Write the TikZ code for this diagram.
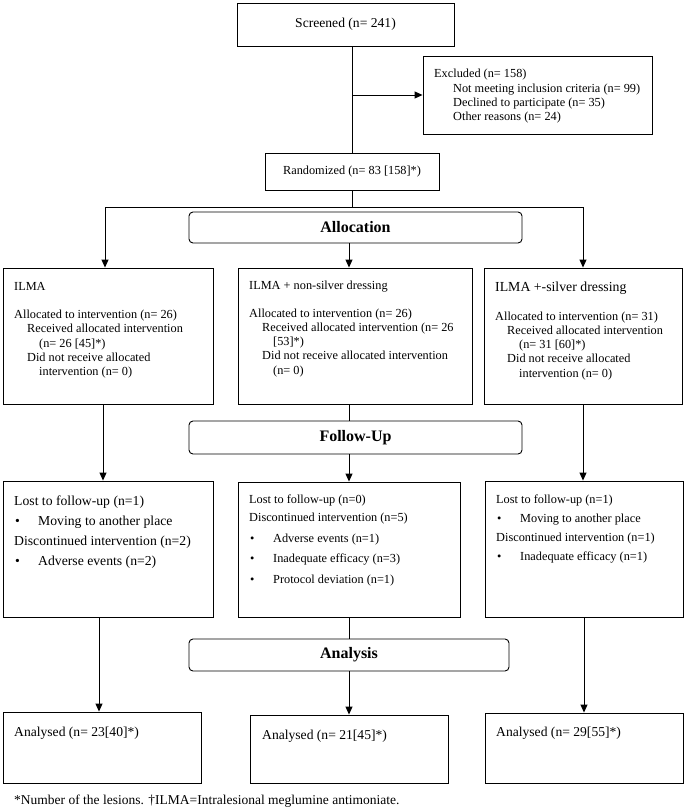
\documentclass[tikz,border=0pt]{standalone}
\usepackage{fontspec}
\setmainfont{Liberation Serif}
\usetikzlibrary{arrows.meta}
\tikzset{
    box/.style={draw, line width=0.9pt, inner sep=0pt},
    stage/.style={box, rounded corners=4pt, font=\fontsize{16}{18}\selectfont\bfseries},
    txt/.style={anchor=base west, align=left, inner sep=0pt},
    link/.style={line width=0.9pt},
    every node/.style={font=\fontsize{12.3}{14.2}\selectfont}
}
\newcommand{\bul}{\makebox[24pt][l]{\hspace{1pt}\textbullet}}
\begin{document}
\begin{tikzpicture}[x=1pt, y=-1pt, >={Triangle[length=8pt, width=7pt]}]
                \useasboundingbox (0,0) rectangle (686,811);
                % enrolment (text blocks are placed at the baseline of their last line)
                \node[box, minimum width=217pt, minimum height=43pt, font=\fontsize{13.6}{16}\selectfont] (screen) at (345.5,24.5) {Screened (n= 241)};
                \node[box, minimum width=229pt, minimum height=78pt] (excl) at (537.5,95) {};
                \node[txt] (excltxt) at (434,120.5) {Excluded (n= 158)\\\hspace*{19pt}Not meeting inclusion criteria (n= 99)\\\hspace*{19pt}Declined to participate (n= 35)\\\hspace*{19pt}Other reasons (n= 24)};
                \node[box, minimum width=174pt, minimum height=37pt] (rand) at (352,171.5) {Randomized (n= 83 [158]*)};
                \coordinate (bus) at (350,207);
                % allocation
                \node[stage, minimum width=333pt, minimum height=31pt] (alloc) at (355.5,227.5) {Allocation};
                \node[box, minimum width=210pt, minimum height=136pt] (left1) at (108,336) {};
                \node[box, minimum width=234pt, minimum height=136pt] (mid1) at (355,336) {};
                \node[box, minimum width=198pt, minimum height=136pt] (right1) at (583,336) {};
                \node[txt] (left1txt) at (14,375.5) {ILMA\\[14pt]Allocated to intervention (n= 26)\\\hspace*{13pt}Received allocated intervention\\\hspace*{25pt}(n= 26 [45]*)\\\hspace*{13pt}Did not receive allocated\\\hspace*{25pt}intervention (n= 0)};
                \node[txt] (mid1txt) at (249,374) {ILMA + non-silver dressing\\[14pt]Allocated to intervention (n= 26)\\\hspace*{13pt}Received allocated intervention (n= 26\\\hspace*{24pt}[53]*)\\\hspace*{13pt}Did not receive allocated intervention\\\hspace*{24pt}(n= 0)};
                \node[txt] (right1txt) at (495,377) {{\fontsize{13.8}{14}\selectfont ILMA +-silver dressing}\\[14.5pt]Allocated to intervention (n= 31)\\\hspace*{12pt}Received allocated intervention\\\hspace*{24pt}(n= 31 [60]*)\\\hspace*{12pt}Did not receive allocated\\\hspace*{24pt}intervention (n= 0)};
                % follow-up
                \node[stage, minimum width=333pt, minimum height=33pt] (follow) at (355.5,437.5) {Follow-Up};
                \node[box, minimum width=210pt, minimum height=136pt] (left2) at (108,549) {};
                \node[box, minimum width=222pt, minimum height=135pt] (mid2) at (349,549.5) {};
                \node[box, minimum width=198pt, minimum height=136pt] (right2) at (584,549) {};
                \node[txt, font=\fontsize{13.7}{19.8}\selectfont] (left2txt) at (14,565) {Lost to follow-up (n=1)\\\bul Moving to another place\\Discontinued intervention (n=2)\\\bul Adverse events (n=2)};
                \node[txt, font=\fontsize{12.3}{20.7}\selectfont] (mid2txt) at (249,583.5) {Lost to follow-up (n=0)\\[-2.5pt]Discontinued intervention (n=5)\\\bul Adverse events (n=1)\\\bul Inadequate efficacy (n=3)\\\bul Protocol deviation (n=1)};
                \node[txt, font=\fontsize{12.3}{19}\selectfont] (right2txt) at (496,560.5) {Lost to follow-up (n=1)\\\bul Moving to another place\\Discontinued intervention (n=1)\\\bul Inadequate efficacy (n=1)};
                % analysis
                \node[stage, minimum width=320pt, minimum height=32pt] (analysis) at (349,655) {Analysis};
                \node[box, minimum width=198pt, minimum height=71pt] (left3) at (102,747.5) {};
                \node[box, minimum width=198pt, minimum height=68pt] (mid3) at (349,749) {};
                \node[box, minimum width=198pt, minimum height=70pt] (right3) at (584,748) {};
                \node[txt, font=\fontsize{13.6}{16}\selectfont] (left3txt) at (14,736) {Analysed (n= 23[40]*)};
                \node[txt, font=\fontsize{13.6}{16}\selectfont] (mid3txt) at (262,739) {Analysed (n= 21[45]*)};
                \node[txt, font=\fontsize{13.6}{16}\selectfont] (right3txt) at (496,736) {Analysed (n= 29[55]*)};
                \node[txt, font=\fontsize{13.5}{16}\selectfont] (note) at (14,804) {*Number of the lesions. †ILMA=Intralesional meglumine antimoniate.};
                % connectors
                \draw[link] (rand.north |- screen.south) -- (rand.north);
                \draw[link, ->] (rand.north |- excl.west) -- (excl.west);
                \draw[link] (rand.south) -- (rand.south |- bus);
                \draw[link] ([xshift=-3pt]left1.north |- bus) -- (right1.north |- bus);
                \draw[link, ->] ([xshift=-3pt]left1.north |- bus) -- ([xshift=-3pt]left1.north);
                \draw[link, ->] (right1.north |- bus) -- (right1.north);
                \draw[link, ->] (mid2.north |- alloc.south) -- (mid2.north |- mid1.north);
                \draw[link, ->] ([xshift=-5pt]left1.south) -- ([xshift=-5pt]left1.south |- left2.north);
                \draw[link] (mid2.north |- mid1.south) -- (mid2.north |- follow.north);
                \draw[link, ->] (mid2.north |- follow.south) -- (mid2.north);
                \draw[link, ->] (right1.south) -- (right1.south |- right2.north);
                \draw[link, ->] ([xshift=-3pt]left3.north |- left2.south) -- ([xshift=-3pt]left3.north);
                \draw[link] (mid2.south) -- (mid2.south |- analysis.north);
                \draw[link, ->] (analysis.south) -- (mid3.north);
                \draw[link, ->] (right2.south) -- (right3.north);
            \end{tikzpicture}
\end{document}
